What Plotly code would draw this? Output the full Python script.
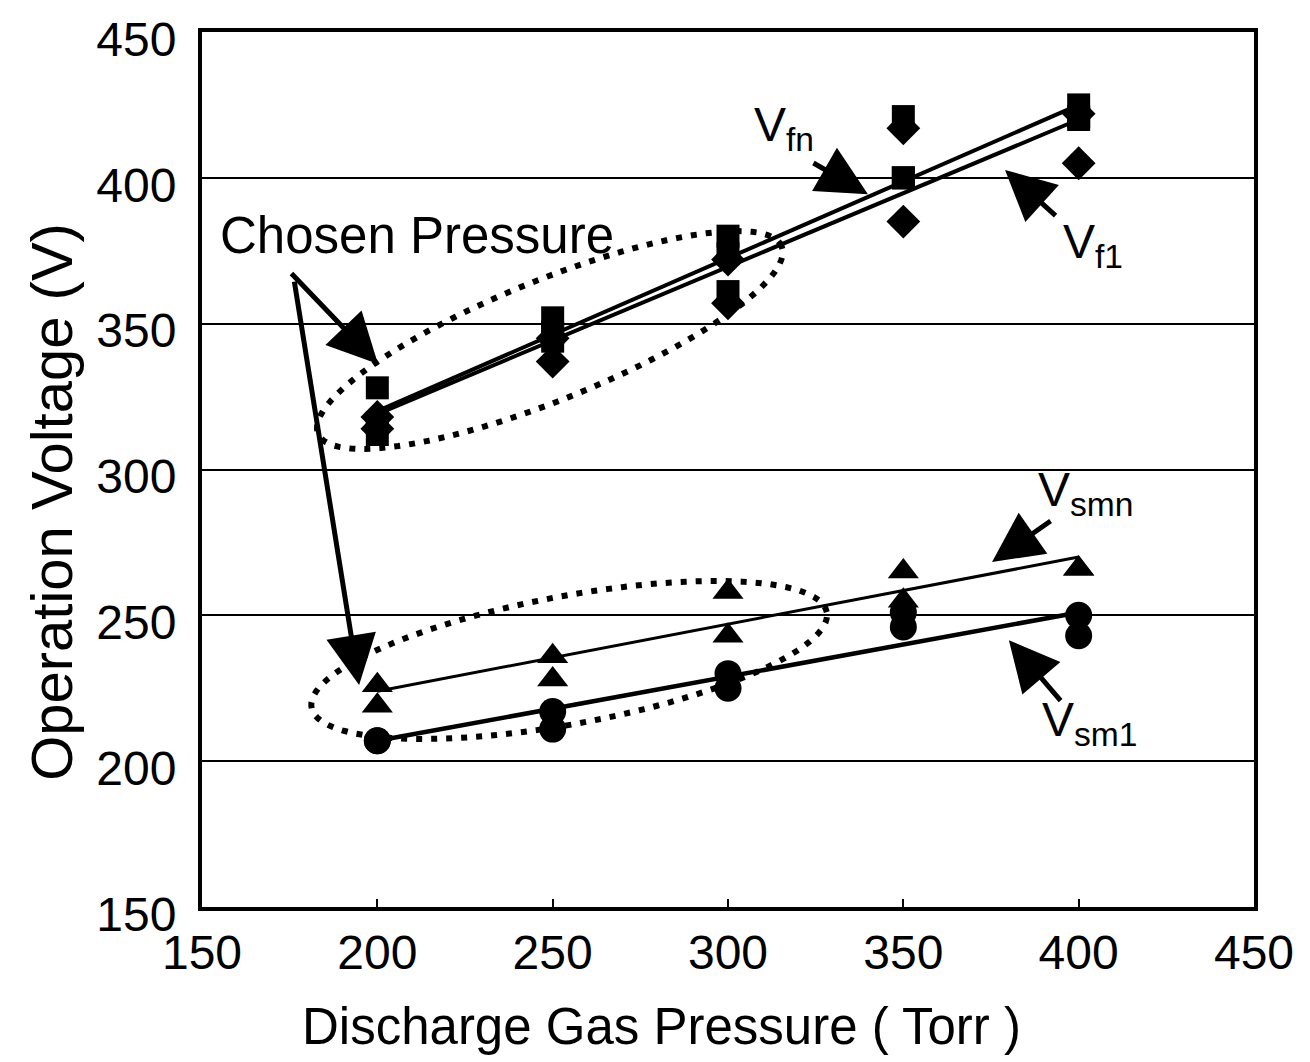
import numpy as np
import plotly.graph_objects as go

# ---------------- data ----------------
pressure = [200, 250, 300, 350, 400]
x_ticks = [150, 200, 250, 300, 350, 400, 450]
y_ticks = [150, 200, 250, 300, 350, 400, 450]

# firing voltage markers (squares / diamonds)
vf_square_a = [328, 352, 380, 421, 425]
vf_square_b = [316, 347, 374, 400, 421]
vf_square_c = [312, 344, 361, 400, 420]
vf_diamond_a = [314, 337, 357, 385, 405]
vf_diamond_b = [318, 345, 372, 417, 422]

# sustain voltage markers (triangles / circles)
vsm_tri_a = [226, 236, 258, 265, 266]
vsm_tri_b = [219, 228, 243, 255, 266]
vsm_cir_a = [207, 217, 230, 251, 250]
vsm_cir_b = [207, 211, 225, 246, 243]

# fitted lines
fit_x = [200, 400]
vfn_fit = [320, 425]
vf1_fit = [319, 420]
vsmn_fit = [224, 270]
vsm1_fit = [207, 251]

# ---------------- figure ----------------
fig = go.Figure()

FONT = "Liberation Sans, Arial, sans-serif"

def add_line(y, w):
    fig.add_trace(go.Scatter(x=fit_x, y=y, mode="lines",
                             line=dict(color="black", width=w),
                             showlegend=False, hoverinfo="skip"))

def add_markers(y, symbol, size):
    fig.add_trace(go.Scatter(x=pressure, y=y, mode="markers",
                             marker=dict(symbol=symbol, size=size, color="black"),
                             showlegend=False))

add_line(vfn_fit, 4)
add_line(vf1_fit, 4)
add_line(vsmn_fit, 3)
add_line(vsm1_fit, 4.5)

add_markers(vf_diamond_a, "diamond", 26)
add_markers(vf_diamond_b, "diamond", 26)
add_markers(vf_square_a, "square", 23)
add_markers(vf_square_b, "square", 23)
add_markers(vf_square_c, "square", 23)
add_markers(vsm_tri_a, "triangle-up", 27)
add_markers(vsm_tri_b, "triangle-up", 27)
add_markers(vsm_cir_a, "circle", 27)
add_markers(vsm_cir_b, "circle", 27)

# ---------------- dotted ellipses ----------------
L, R, T, B = 194, 64, 24, 163
W, H = 1310, 1062
XS = (W - L - R) / 300.0   # px per unit
YS = (H - T - B) / 300.0

def ellipse_path(cx, cy, a_px, b_px, ang_deg):
    t = np.linspace(0, 2 * np.pi, 120)
    ang = np.deg2rad(ang_deg)
    dx = a_px * np.cos(t) * np.cos(ang) - b_px * np.sin(t) * np.sin(ang)
    dy = a_px * np.cos(t) * np.sin(ang) + b_px * np.sin(t) * np.cos(ang)
    xs = cx + dx / XS
    ys = cy + dy / YS
    return "M " + " L ".join(f"{a:.3f},{b:.3f}" for a, b in zip(xs, ys)) + " Z"

for cx, cy, a, b, ang in [(249.2, 344.4, 250, 60, 22), (254.7, 234.7, 262, 64, 10.5)]:
    fig.add_shape(type="path", path=ellipse_path(cx, cy, a, b, ang),
                  line=dict(color="black", width=6, dash="6px,9px"),
                  xref="x", yref="y")

# ---------------- annotations ----------------
arrow = dict(showarrow=True, arrowhead=2, arrowsize=2.0, arrowwidth=5,
             arrowcolor="black", text="", xref="x", yref="y")

fig.add_annotation(x=200.2, y=336.2, ax=-88, ay=-92, **arrow)
fig.add_annotation(x=194.8, y=226.1, ax=-65, ay=-405, **arrow)
fig.add_annotation(x=339.9, y=394.4, ax=-56, ay=-32, **arrow)
fig.add_annotation(x=379.0, y=402.7, ax=52, ay=47, **arrow)
fig.add_annotation(x=375.3, y=268.3, ax=60, ay=-42, **arrow)
fig.add_annotation(x=380.1, y=241.5, ax=53, ay=62, **arrow)

txt = dict(showarrow=False, xref="x", yref="y")
fig.add_annotation(x=211.3, y=380.4, text="Chosen Pressure",
                   font=dict(family=FONT, size=51, color="black"), **txt)
vfont = dict(family=FONT, size=48, color="black")
fig.add_annotation(x=316, y=417, text="V<sub>fn</sub>", font=vfont, **txt)
fig.add_annotation(x=404, y=377, text="V<sub>f1</sub>", font=vfont, **txt)
fig.add_annotation(x=402, y=292, text="V<sub>smn</sub>", font=vfont, **txt)
fig.add_annotation(x=403, y=213, text="V<sub>sm1</sub>", font=vfont, **txt)

# axis titles (placed as paper annotations to match the reference offsets)
fig.add_annotation(x=0.437, y=-0.136, xref="paper", yref="paper", showarrow=False,
                   xanchor="center", yanchor="middle",
                   text="Discharge Gas Pressure ( Torr )",
                   font=dict(family=FONT, size=51, color="black"))
fig.add_annotation(x=-0.1426, y=0.463, xref="paper", yref="paper", showarrow=False,
                   xanchor="center", yanchor="middle",
                   text="Operation Voltage (V)", textangle=-90,
                   font=dict(family=FONT, size=58, color="black"))

axis_common = dict(showline=True, linecolor="black", linewidth=4, mirror=True,
                   tickfont=dict(family=FONT, size=48, color="black"),
                   zeroline=False, automargin=False, ticklabeloverflow="allow")

fig.update_xaxes(range=[150, 450], tickvals=x_ticks, ticktext=[str(v) for v in x_ticks],
                 showgrid=False, ticks="inside", ticklen=8, tickwidth=2, tickcolor="black",
                 ticklabelstandoff=0,
                 **axis_common)
fig.update_yaxes(range=[150, 450], tickvals=y_ticks, ticktext=[str(v) for v in y_ticks],
                 showgrid=True, gridcolor="black", gridwidth=2,
                 ticklabelstandoff=12, ticklabelshift=7,
                 **axis_common)

fig.update_layout(width=W, height=H, margin=dict(l=L, r=R, t=T, b=B),
                  plot_bgcolor="white", paper_bgcolor="white", showlegend=False)

fig.write_html("out.html")
